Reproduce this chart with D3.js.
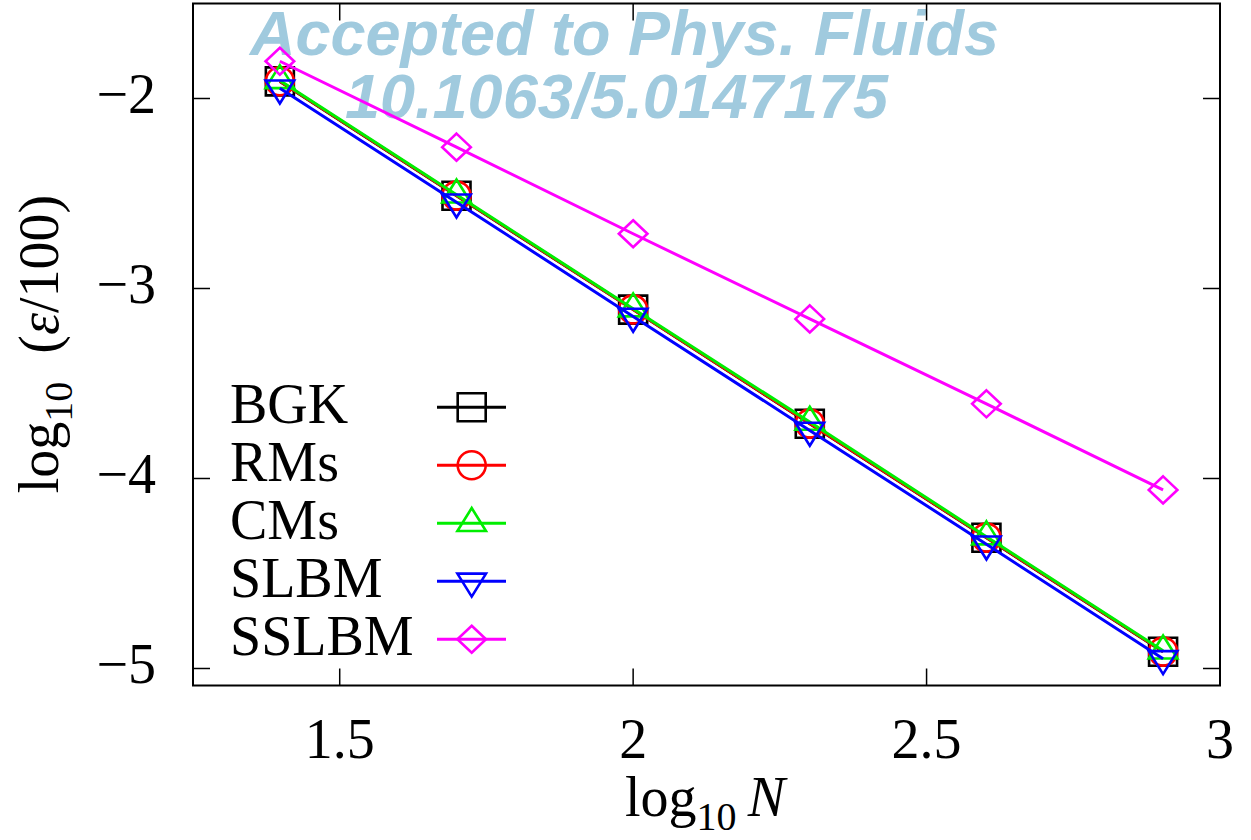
<!DOCTYPE html>
<html>
<head>
<meta charset="utf-8">
<script src="https://cdn.jsdelivr.net/npm/d3@7"></script>
<style>
  body { margin: 0; background: #fff; }
  text { font-family: "Liberation Serif", "DejaVu Serif", serif; }
</style>
</head>
<body>
<svg id="chart" width="1251" height="840"></svg>
<script>
// log10 N at each grid
const xVals = [1.398, 1.699, 2.0, 2.301, 2.602, 2.903]

// log10(eps/100) per model
const bgk = [-1.910, -2.512, -3.111, -3.712, -4.312, -4.912]
const rms = [-1.909, -2.511, -3.110, -3.711, -4.311, -4.911]
const cms = [-1.905, -2.507, -3.106, -3.703, -4.306, -4.907]
const slbm = [-1.946, -2.546, -3.147, -3.747, -4.346, -4.949]
const sslbm = [-1.804, -2.256, -2.712, -3.160, -3.607, -4.060]

const names = ['BGK', 'RMs', 'CMs', 'SLBM', 'SSLBM']
const xTicks = [1.5, 2, 2.5, 3]
const yTicks = [-2, -3, -4, -5]

const colors = ['#000000', '#ff0000', '#00ee00', '#0000ff', '#ff00ff']
const shapes = ['square', 'circle', 'triUp', 'triDown', 'diamond']
const series = [bgk, rms, cms, slbm, sslbm].map((values, i) => ({
  name: names[i], values, color: colors[i], shape: shapes[i]
}))

const plotLeft = 193, plotRight = 1220, plotTop = 3.5, plotBottom = 685.5

const x = d3.scaleLinear().domain([1.25, 3]).range([plotLeft, plotRight])
const y = d3.scaleLinear().domain([-1.5, -5.0895]).range([plotTop, plotBottom])

const svg = d3.select('svg#chart')
svg.append('rect').attr('width', 1251).attr('height', 840).attr('fill', '#fff')

// watermark sits under the data
const wm = svg.append('g')
  .attr('fill', '#a0cade')
  .style('font-family', '"Liberation Sans", Arial, sans-serif')
  .style('font-weight', 'bold')
  .style('font-style', 'italic')
  .style('font-size', '63px')
wm.append('text').attr('x', 250).attr('y', 55).style('font-family', '"Liberation Sans", Arial, sans-serif').text('Accepted to Phys. Fluids')
wm.append('text').attr('x', 345).attr('y', 118).style('font-family', '"Liberation Sans", Arial, sans-serif').text('10.1063/5.0147175')

// ticks (inside, mirrored)
const tickLen = 17
const ticks = svg.append('g').attr('stroke', '#000').attr('stroke-width', 1.5)
xTicks.forEach(t => {
  ticks.append('line').attr('x1', x(t)).attr('x2', x(t)).attr('y1', plotBottom).attr('y2', plotBottom - tickLen)
  ticks.append('line').attr('x1', x(t)).attr('x2', x(t)).attr('y1', plotTop).attr('y2', plotTop + tickLen)
})
yTicks.forEach(t => {
  ticks.append('line').attr('x1', plotLeft).attr('x2', plotLeft + tickLen).attr('y1', y(t)).attr('y2', y(t))
  ticks.append('line').attr('x1', plotRight).attr('x2', plotRight - tickLen).attr('y1', y(t)).attr('y2', y(t))
})

svg.append('g').selectAll('text')
  .data(xTicks)
  .enter()
    .append('text')
      .attr('x', d => x(d))
      .attr('y', 758)
      .attr('text-anchor', 'middle')
      .style('font-size', '56px')
      .text(d => d)

svg.append('g').selectAll('text')
  .data(yTicks)
  .enter()
    .append('text')
      .attr('x', 156)
      .attr('y', d => y(d) + 15)
      .attr('text-anchor', 'end')
      .style('font-size', '56px')
      .text(d => '\u2212' + Math.abs(d))

// axis titles
const xl = svg.append('text')
  .attr('x', 705).attr('y', 816)
  .attr('text-anchor', 'middle')
  .style('font-size', '56px')
xl.append('tspan').text('log')
xl.append('tspan').attr('dy', 14).style('font-size', '40px').text('10')
xl.append('tspan').attr('dy', -14).text('\u2009')
xl.append('tspan').style('font-style', 'italic').text('N')

const yl = svg.append('text')
  .attr('transform', 'translate(58, 344) rotate(-90)')
  .attr('text-anchor', 'middle')
  .style('font-size', '56px')
yl.append('tspan').text('log')
yl.append('tspan').attr('dy', 14).style('font-size', '40px').text('10')
yl.append('tspan').attr('dy', -14).text('\u2002(')
yl.append('tspan').style('font-style', 'italic').text('\u03b5')
yl.append('tspan').text('/100)')

// marker outlines centred on the point
function marker(g, shape, color) {
  if (shape === 'circle') {
    g.append('circle').attr('r', 14)
  } else {
    const p = {
      square: 'M-14,-14H14V14H-14Z',
      triUp: 'M0,-15.3L14.3,7.7L-14.3,7.7Z',
      triDown: 'M0,15.3L14.3,-7.7L-14.3,-7.7Z',
      diamond: 'M0,-13.5L14.3,0L0,13.5L-14.3,0Z'
    }[shape]
    g.append('path').attr('d', p)
  }
  g.attr('fill', 'none').attr('stroke', color).attr('stroke-width', 2.6)
}

const line = d3.line().x((d, i) => x(xVals[i])).y(d => y(d))

series.forEach(s => {
  const g = svg.append('g')
  g.append('path')
    .attr('d', line(s.values))
    .attr('fill', 'none')
    .attr('stroke', s.color)
    .attr('stroke-width', 3)
  s.values.forEach((v, i) => {
    marker(g.append('g').attr('transform', `translate(${x(xVals[i])},${y(v)})`), s.shape, s.color)
  })
})

// legend
const legend = svg.append('g').attr('class', 'legend')
series.forEach((s, i) => {
  const ly = 407.3 + i * 58
  legend.append('text')
    .attr('x', 230).attr('y', ly + 15.5)
    .style('font-size', '56px')
    .text(s.name)
  legend.append('line')
    .attr('x1', 437).attr('x2', 506).attr('y1', ly).attr('y2', ly)
    .attr('stroke', s.color).attr('stroke-width', 3)
  marker(legend.append('g').attr('transform', `translate(471.7,${ly})`), s.shape, s.color)
})

// frame
svg.append('rect')
  .attr('x', plotLeft).attr('y', plotTop)
  .attr('width', plotRight - plotLeft).attr('height', plotBottom - plotTop)
  .attr('fill', 'none').attr('stroke', '#000').attr('stroke-width', 2)
</script>
</body>
</html>
